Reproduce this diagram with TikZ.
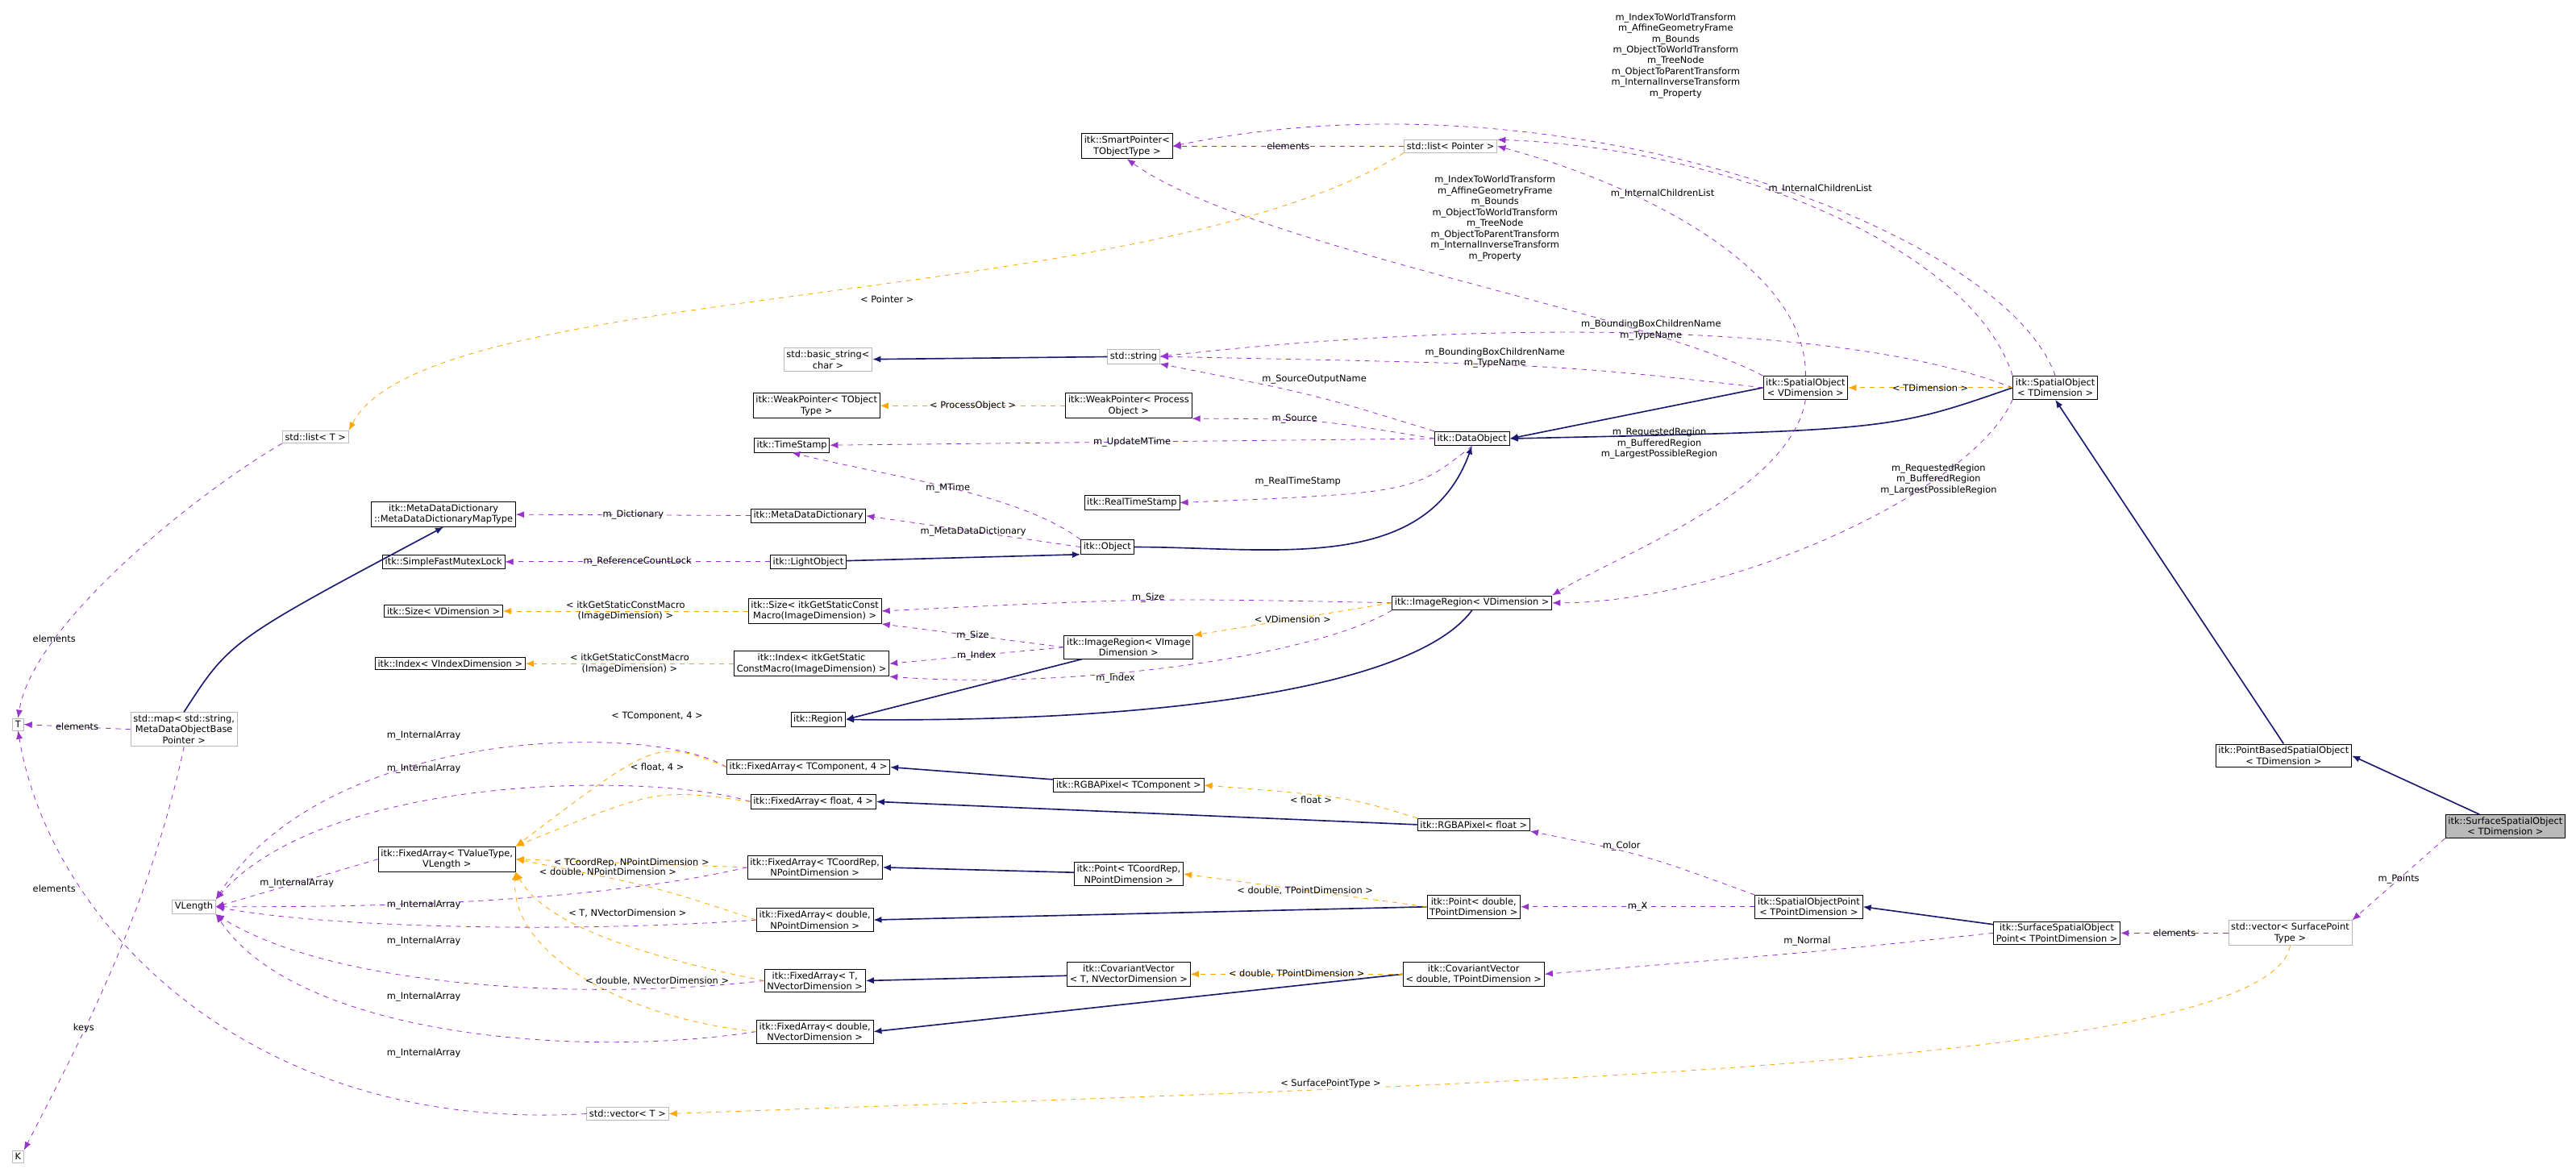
\documentclass[tikz,border=0pt]{standalone}
\usepackage{fontspec}
\setmainfont{DejaVu Sans}
\usetikzlibrary{arrows.meta,positioning}
\definecolor{inhcol}{RGB}{25,25,112}
\definecolor{usecol}{RGB}{153,50,204}
\definecolor{tplcol}{RGB}{255,165,0}
\begin{document}
\begin{tikzpicture}[x=1pt,y=-1pt,font=\fontsize{5.6}{6.6}\selectfont,
	cls/.style={draw=black, fill=white, inner sep=1.6pt, align=center},
	ext/.style={cls, draw=gray!55},
	cur/.style={cls, fill=gray!55},
	inh/.style={draw=inhcol, thick, -{Latex[length=5pt,width=4pt]}},
	use/.style={draw=usecol, dashed, -{Latex[length=5pt,width=4pt]}},
	tpl/.style={draw=tplcol, dashed, -{Latex[length=5pt,width=4pt]}},
	lbl/.style={inner sep=0.5pt, align=center, font=\fontsize{5.6}{6.6}\selectfont}]
	\useasboundingbox (0,0) rectangle (1568,714);
	% classes
	\node[cls] (sptr) at (686,89) {itk::SmartPointer<\\TObjectType >};
	\node[ext] (plist) at (883,89) {std::list< Pointer >};
	\node[ext] (bstr) at (504,219) {std::basic\_string<\\char >};
	\node[ext] (str) at (690,217) {std::string};
	\node[cls] (wpT) at (497,247) {itk::WeakPointer< TObject\\Type >};
	\node[cls] (wpP) at (687,247) {itk::WeakPointer< Process\\Object >};
	\node[cls] (tstamp) at (482,271) {itk::TimeStamp};
	\node[cls] (rtstamp) at (689,306) {itk::RealTimeStamp};
	\node[cls] (dobj) at (896,267) {itk::DataObject};
	\node[cls] (mapty) at (270,313) {itk::MetaDataDictionary\\::MetaDataDictionaryMapType};
	\node[cls] (mdd) at (492,314) {itk::MetaDataDictionary};
	\node[cls] (mutex) at (270,342) {itk::SimpleFastMutexLock};
	\node[cls] (lobj) at (492,342) {itk::LightObject};
	\node[cls] (obj) at (674,333) {itk::Object};
	\node[cls] (soV) at (1099,236) {itk::SpatialObject\\< VDimension >};
	\node[cls] (soT) at (1251,236) {itk::SpatialObject\\< TDimension >};
	\node[cls] (sizeV) at (270,372) {itk::Size< VDimension >};
	\node[cls] (sizeI) at (496,372) {itk::Size< itkGetStaticConst\\Macro(ImageDimension) >};
	\node[cls] (iregV) at (896,367) {itk::ImageRegion< VDimension >};
	\node[cls] (iregI) at (687,394) {itk::ImageRegion< VImage\\Dimension >};
	\node[cls] (idxV) at (274,404) {itk::Index< VIndexDimension >};
	\node[cls] (idxI) at (494,404) {itk::Index< itkGetStatic\\ConstMacro(ImageDimension) >};
	\node[cls] (region) at (498,438) {itk::Region};
	\node[ext] (T) at (11,441) {T};
	\node[ext] (smap) at (112,444) {std::map< std::string,\\MetaDataObjectBase\\Pointer >};
	\node[ext] (listT) at (192,266) {std::list< T >};
	\node[cls] (faTC) at (492,467) {itk::FixedArray< TComponent, 4 >};
	\node[cls] (rgbaTC) at (687,478) {itk::RGBAPixel< TComponent >};
	\node[cls] (faF4) at (495,488) {itk::FixedArray< float, 4 >};
	\node[cls] (rgbaF) at (897,502) {itk::RGBAPixel< float >};
	\node[cls] (pbso) at (1390,460) {itk::PointBasedSpatialObject\\< TDimension >};
	\node[cur] (sso) at (1525,503) {itk::SurfaceSpatialObject\\< TDimension >};
	\node[cls] (faTV) at (272,523) {itk::FixedArray< TValueType,\\VLength >};
	\node[ext] (vlen) at (118,552) {VLength};
	\node[cls] (faCR) at (496,528) {itk::FixedArray< TCoordRep,\\NPointDimension >};
	\node[cls] (ptCR) at (687,532) {itk::Point< TCoordRep,\\NPointDimension >};
	\node[cls] (faDP) at (496,560) {itk::FixedArray< double,\\NPointDimension >};
	\node[cls] (ptD) at (897,552) {itk::Point< double,\\TPointDimension >};
	\node[cls] (sop) at (1101,552) {itk::SpatialObjectPoint\\< TPointDimension >};
	\node[cls] (ssop) at (1252,568) {itk::SurfaceSpatialObject\\Point< TPointDimension >};
	\node[ext] (svec) at (1394,568) {std::vector< SurfacePoint\\Type >};
	\node[cls] (cvD) at (897,593) {itk::CovariantVector\\< double, TPointDimension >};
	\node[cls] (cvT) at (687,593) {itk::CovariantVector\\< T, NVectorDimension >};
	\node[cls] (faTN) at (496,597) {itk::FixedArray< T,\\NVectorDimension >};
	\node[cls] (faDN) at (496,628) {itk::FixedArray< double,\\NVectorDimension >};
	\node[ext] (vecT) at (382,678) {std::vector< T >};
	\node[ext] (K) at (11,704) {K};
	% inheritance
	\draw[inh] (str) -- (bstr);
	\draw[inh] (obj.east) to[out=0,in=-110] (dobj.south);
	\draw[inh] (soV.west) -- (dobj.east);
	\draw[inh] (soT.west) .. controls (1150,262) .. (dobj.east);
	\draw[inh] (lobj) -- (obj.south west);
	\draw[inh] (smap.north) .. controls (140,390) .. (mapty.south);
	\draw[inh] (iregI) -- (region.east);
	\draw[inh] (iregV.south) .. controls (860,420) and (700,440) .. (region.east);
	\draw[inh] (rgbaTC) -- (faTC.east);
	\draw[inh] (rgbaF.west) -- (faF4.east);
	\draw[inh] (ptCR) -- (faCR.east);
	\draw[inh] (ptD.west) -- (faDP.east);
	\draw[inh] (cvT) -- (faTN.east);
	\draw[inh] (cvD.west) -- (faDN.east);
	\draw[inh] (ssop) -- (sop.east);
	\draw[inh] (pbso.north) -- (soT.south);
	\draw[inh] (sso) -- (pbso.east);
	% usage
	\draw[use] (plist) -- node[lbl, at={(780,89)}] {elements} (sptr);
	\draw[use] (soT.north) .. controls (1220,140) and (950,40) .. (sptr.east)
		node[lbl, at={(1020,34)}] {m\_IndexToWorldTransform\\m\_AffineGeometryFrame\\m\_Bounds\\m\_ObjectToWorldTransform\\m\_TreeNode\\m\_ObjectToParentTransform\\m\_InternalInverseTransform\\m\_Property};
	\draw[use] (soV.north west) .. controls (1000,190) and (760,150) .. (sptr.south)
		node[lbl, at={(910,133)}] {m\_IndexToWorldTransform\\m\_AffineGeometryFrame\\m\_Bounds\\m\_ObjectToWorldTransform\\m\_TreeNode\\m\_ObjectToParentTransform\\m\_InternalInverseTransform\\m\_Property};
	\draw[use] (soV.north) .. controls (1100,160) and (990,110) .. (plist.east)
		node[lbl, at={(1012,118)}] {m\_InternalChildrenList};
	\draw[use] (soT.north west) .. controls (1200,150) and (1050,90) .. (plist.north east)
		node[lbl, at={(1108,115)}] {m\_InternalChildrenList};
	\draw[use] (soT.west) .. controls (1120,195) and (900,195) .. (str.east)
		node[lbl, at={(1005,201)}] {m\_BoundingBoxChildrenName\\m\_TypeName};
	\draw[use] (soV.west) .. controls (950,222) .. (str.east)
		node[lbl, at={(910,218)}] {m\_BoundingBoxChildrenName\\m\_TypeName};
	\draw[use] (dobj.north west) .. controls (800,240) .. (str.south east)
		node[lbl, at={(800,231)}] {m\_SourceOutputName};
	\draw[use] (dobj.west) .. controls (800,255) .. (wpP.south east)
		node[lbl, at={(788,255)}] {m\_Source};
	\draw[use] (dobj.west) -- node[lbl, at={(706,271)}] {m\_UpdateMTime} (tstamp.east);
	\draw[use] (dobj.south) .. controls (860,300) .. (rtstamp.east)
		node[lbl, at={(790,293)}] {m\_RealTimeStamp};
	\draw[use] (obj.north west) .. controls (620,300) and (540,290) .. (tstamp.south)
		node[lbl, at={(577,297)}] {m\_MTime};
	\draw[use] (obj.west) -- node[lbl, at={(593,318)}] {m\_MetaDataDictionary} (mdd.east);
	\draw[use] (mdd) -- node[lbl, at={(384,310)}] {m\_Dictionary} (mapty);
	\draw[use] (lobj) -- node[lbl, at={(385,338)}] {m\_ReferenceCountLock} (mutex);
	\draw[use] (soV.south) .. controls (1090,300) and (980,340) .. (iregV.north east)
		node[lbl, at={(1010,270)}] {m\_RequestedRegion\\m\_BufferedRegion\\m\_LargestPossibleRegion};
	\draw[use] (soT.south west) .. controls (1200,300) and (1050,367) .. (iregV.east)
		node[lbl, at={(1180,292)}] {m\_RequestedRegion\\m\_BufferedRegion\\m\_LargestPossibleRegion};
	\draw[use] (iregV.west) .. controls (700,364) .. (sizeI.east)
		node[lbl, at={(699,364)}] {m\_Size};
	\draw[use] (iregI.west) -- node[lbl, at={(590,377)}] {m\_Size} (sizeI.south east);
	\draw[use] (iregI.west) -- node[lbl, at={(597,396)}] {m\_Index} (idxI.east);
	\draw[use] (iregV.south west) .. controls (800,400) and (650,420) .. (idxI.south east)
		node[lbl, at={(679,413)}] {m\_Index};
	\draw[use] (listT.south west) .. controls (120,300) and (20,380) .. (T.north)
		node[lbl, at={(33,389)}] {elements};
	\draw[use] (smap.west) -- node[lbl, at={(52,440)}] {elements} (T.east);
	\draw[use] (smap.south) .. controls (90,560) and (40,650) .. (K.north east)
		node[lbl, at={(51,626)}] {keys};
	\draw[use] (vecT.west) .. controls (150,690) and (30,560) .. (T.south)
		node[lbl, at={(33,541)}] {elements};
	\draw[use] (faTV.west) -- node[lbl, at={(175,534)}] {m\_InternalArray} (vlen.east);
	\draw[use] (faTC.west) .. controls (400,440) and (200,440) .. (vlen.north east)
		node[lbl, at={(258,448)}] {m\_InternalArray};
	\draw[use] (faF4.west) .. controls (400,470) and (200,470) .. (vlen.north east)
		node[lbl, at={(258,468)}] {m\_InternalArray};
	\draw[use] (faCR.west) .. controls (350,552) and (200,552) .. (vlen.east)
		node[lbl, at={(258,551)}] {m\_InternalArray};
	\draw[use] (faDP.west) .. controls (350,568) and (200,565) .. (vlen.east)
		node[lbl, at={(258,573)}] {m\_InternalArray};
	\draw[use] (faTN.west) .. controls (350,610) and (200,600) .. (vlen.south east)
		node[lbl, at={(258,607)}] {m\_InternalArray};
	\draw[use] (faDN.west) .. controls (350,645) and (180,630) .. (vlen.south east)
		node[lbl, at={(258,641)}] {m\_InternalArray};
	\draw[use] (sso.south west) -- node[lbl, at={(1459,528)}] {m\_Points} (svec.north east);
	\draw[use] (svec.west) -- node[lbl, at={(1318,565)}] {elements} (ssop.east);
	\draw[use] (ssop.west) .. controls (1100,580) .. (cvD.east)
		node[lbl, at={(1100,573)}] {m\_Normal};
	\draw[use] (sop.west) -- node[lbl, at={(1003,547)}] {m\_X} (ptD.east);
	\draw[use] (sop.north west) .. controls (1000,520) .. (rgbaF.south east)
		node[lbl, at={(987,515)}] {m\_Color};
	% templates
	\draw[tpl] (plist.south west) .. controls (700,190) and (260,170) .. (listT.north east)
		node[lbl, fill=white, at={(540,182)}] {< Pointer >};
	\draw[tpl] (wpP) -- node[lbl, at={(593,244)}] {< ProcessObject >} (wpT);
	\draw[tpl] (soT) -- node[lbl, at={(1171,231)}] {< TDimension >} (soV);
	\draw[tpl] (sizeI) -- node[lbl, at={(382,364)}] {< itkGetStaticConstMacro\\(ImageDimension) >} (sizeV);
	\draw[tpl] (idxI) -- node[lbl, at={(382,396)}] {< itkGetStaticConstMacro\\(ImageDimension) >} (idxV);
	\draw[tpl] (iregV.west) -- node[lbl, at={(790,372)}] {< VDimension >} (iregI.north east);
	\draw[tpl] (rgbaF.north west) .. controls (820,485) .. (rgbaTC.east)
		node[lbl, at={(798,487)}] {< float >};
	\draw[tpl] (faTC.west) .. controls (400,450) .. (faTV.north east)
		node[lbl, at={(400,436)}] {< TComponent, 4 >};
	\draw[tpl] (faF4.west) .. controls (400,480) .. (faTV.north east)
		node[lbl, at={(400,467)}] {< float, 4 >};
	\draw[tpl] (faCR.west) -- node[lbl, at={(372,520)}] {< TCoordRep, NPointDimension >} (faTV.east);
	\draw[tpl] (faDP.west) .. controls (400,540) .. (faTV.east)
		node[lbl, at={(370,531)}] {< double, NPointDimension >};
	\draw[tpl] (faTN.west) .. controls (380,580) and (330,560) .. (faTV.south east)
		node[lbl, at={(382,556)}] {< T, NVectorDimension >};
	\draw[tpl] (faDN.west) .. controls (380,620) and (310,580) .. (faTV.south east)
		node[lbl, at={(400,597)}] {< double, NVectorDimension >};
	\draw[tpl] (ptD.west) -- node[lbl, at={(790,533)}] {< double, TPointDimension >} (ptCR.east);
	\draw[tpl] (cvD.west) -- node[lbl, at={(790,593)}] {< double, TPointDimension >} (cvT.east);
	\draw[tpl] (svec.south) .. controls (1380,650) and (900,660) .. (vecT.east)
		node[lbl, fill=white, at={(810,660)}] {< SurfacePointType >};
\end{tikzpicture}
\end{document}
